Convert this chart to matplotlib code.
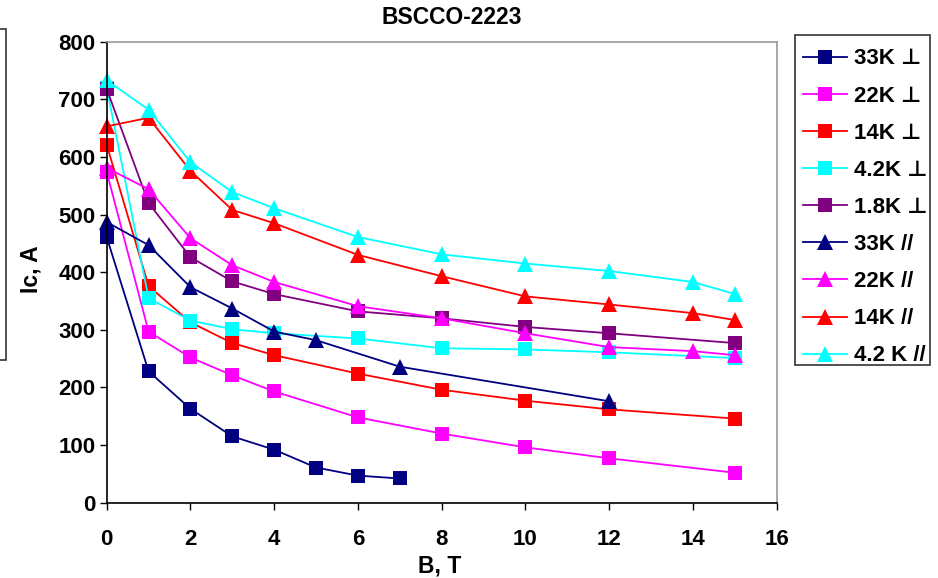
import matplotlib
matplotlib.use("Agg")
import matplotlib.pyplot as plt
from matplotlib.patches import Rectangle

plt.rcParams['font.family'] = ['Liberation Sans', 'DejaVu Sans']
plt.rcParams['font.weight'] = 'bold'

labels = ["33K ⊥", "22K ⊥", "14K ⊥", "4.2K ⊥", "1.8K ⊥",
          "33K //", "22K //", "14K //", "4.2 K //"]
colors = ["#000080", "#FF00FF", "#FF0000", "#00FFFF", "#800080",
          "#000080", "#FF00FF", "#FF0000", "#00FFFF"]
markers = ["s", "s", "s", "s", "s", "^", "^", "^", "^"]

x_33p = [0, 1, 2, 3, 4, 5, 6, 7]
y_33p = [461, 228, 163, 115, 92, 61, 47, 42]
x_22p = [0, 1, 2, 3, 4, 6, 8, 10, 12, 15]
y_22p = [574, 297, 252, 221, 193, 148, 120, 96, 77, 52]
x_14p = [0, 1, 2, 3, 4, 6, 8, 10, 12, 15]
y_14p = [621, 376, 313, 277, 256, 224, 196, 177, 162, 146]
x_42p = [0, 1, 2, 3, 4, 6, 8, 10, 12, 15]
y_42p = [720, 355, 316, 301, 294, 285, 268, 266, 261, 251]
x_18p = [0, 1, 2, 3, 4, 6, 8, 10, 12, 15]
y_18p = [718, 520, 426, 384, 362, 332, 320, 305, 294, 277]
x_33l = [0, 1, 2, 3, 4, 5, 7, 12]
y_33l = [487, 447, 374, 337, 297, 282, 236, 176]
x_22l = [0, 1, 2, 3, 4, 6, 8, 10, 12, 14, 15]
y_22l = [581, 544, 459, 412, 383, 341, 320, 294, 270, 263, 256]
x_14l = [0, 1, 2, 3, 4, 6, 8, 10, 12, 14, 15]
y_14l = [653, 668, 576, 508, 485, 430, 393, 358, 344, 329, 317]
x_42l = [0, 1, 2, 3, 4, 6, 8, 10, 12, 14, 15]
y_42l = [733, 682, 591, 539, 511, 461, 431, 415, 402, 383, 362]

xs = [x_33p, x_22p, x_14p, x_42p, x_18p, x_33l, x_22l, x_14l, x_42l]
ys = [y_33p, y_22p, y_14p, y_42p, y_18p, y_33l, y_22l, y_14l, y_42l]

W, H = 938, 578
fig = plt.figure(figsize=(W / 100, H / 100), dpi=100)
ax = fig.add_axes([106.7 / W, 1 - 502.7 / H, (776.7 - 106.7) / W, (502.7 - 41.7) / H])

handles = []
for x, y, c, m, lab in zip(xs, ys, colors, markers, labels):
    ms = 9.8 if m == "s" else 11
    h, = ax.plot(x, y, color=c, marker=m, markersize=ms, linewidth=1.3,
                 markeredgewidth=0, label=lab, clip_on=False)
    handles.append(h)

ax.set_xlim(0, 16)
ax.set_ylim(0, 800)
ax.set_xticks(range(0, 17, 2))
ax.set_yticks(range(0, 801, 100))
ax.tick_params(direction='out', length=5, width=1, labelsize=16)
ax.tick_params(axis='x', pad=14)
ax.tick_params(axis='y', pad=3)
for lab in ax.get_xticklabels() + ax.get_yticklabels():
    lab.set_fontweight('bold')
ax.spines['left'].set_color('black')
ax.spines['bottom'].set_color('black')
ax.spines['top'].set_color('#999999')
ax.spines['right'].set_color('#999999')
for s in ax.spines.values():
    s.set_linewidth(1.2)

fig.text(452 / W, 1 - 18 / H, "BSCCO-2223", ha='center', va='center',
         fontsize=16.5, fontweight='bold')
fig.text(440 / W, 1 - 566 / H, "B, T", ha='center', va='center',
         fontsize=16.5, fontweight='bold')
fig.text(31 / W, 1 - 269 / H, "Ic, A", ha='center', va='center',
         fontsize=16.5, fontweight='bold', rotation=90)

leg = fig.legend(handles=handles, loc='upper left',
                 bbox_to_anchor=(803 / W, 1 - 48.5 / H),
                 bbox_transform=fig.transFigure,
                 prop={'size': 16, 'weight': 'bold'},
                 frameon=False, borderpad=0,
                 labelspacing=0.725, handlelength=2.0, handletextpad=0.3,
                 borderaxespad=0)

# legend frame
fig.patches.append(Rectangle((795 / W, 1 - 365 / H), 135 / W, 330 / H,
                             transform=fig.transFigure, fill=False,
                             edgecolor='#333333', linewidth=1.2))
# partially visible box at left edge
fig.patches.append(Rectangle((-10 / W, 1 - 360 / H), 15.5 / W, (360 - 29) / H,
                             transform=fig.transFigure, fill=False,
                             edgecolor='#333333', linewidth=1.2))

fig.savefig("out.png", dpi=100)
